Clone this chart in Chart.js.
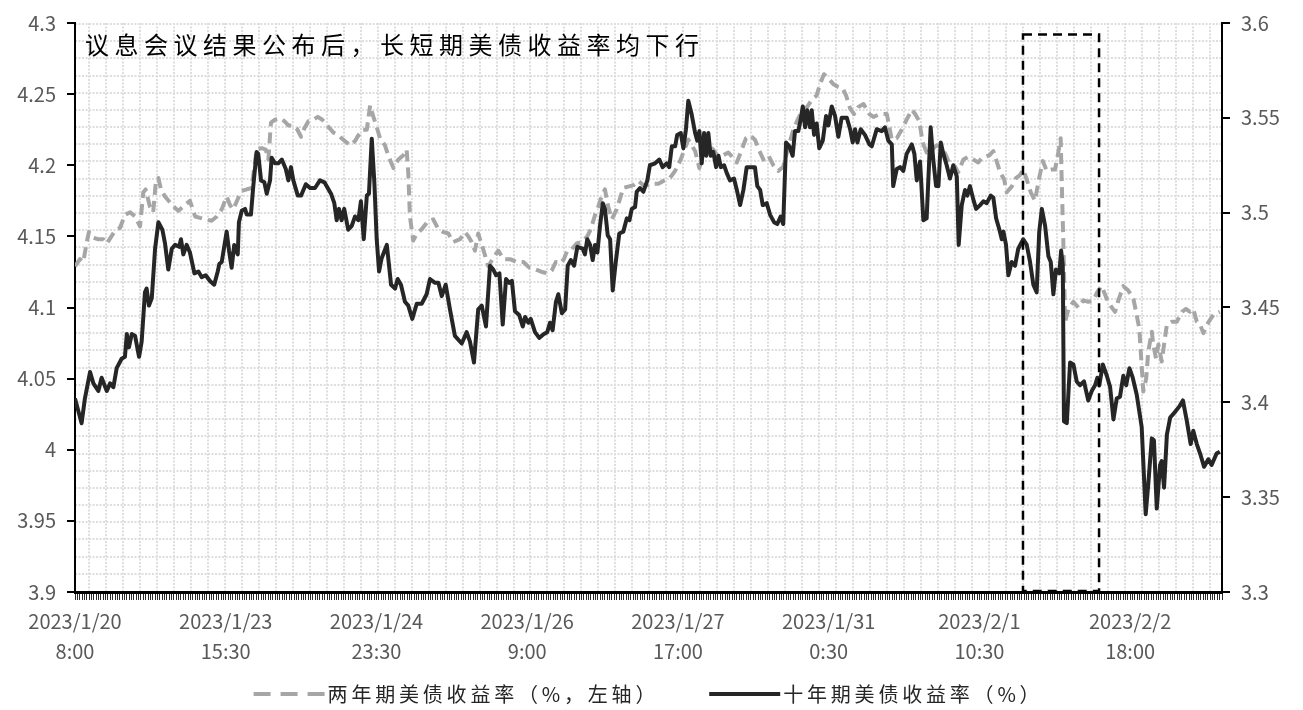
<!DOCTYPE html>
<html lang="zh-CN">
<head>
<meta charset="utf-8">
<title>美债收益率</title>
<script src="https://cdn.jsdelivr.net/npm/chart.js@4.4.1/dist/chart.umd.min.js"></script>
<style>
  html, body { margin: 0; padding: 0; background: #fff; }
  #wrap { width: 1303px; height: 710px; position: relative; }
</style>
</head>
<body>
<div id="wrap"><canvas id="yieldChart"></canvas></div>
<script>
// 横轴为半小时序号（0 ~ 487），每 64 个标一次时间
var barCount = 488;
var tickEvery = 64;
var tickLabels = [
    ['2023/1/20', '8:00'], ['2023/1/23', '15:30'], ['2023/1/24', '23:30'], ['2023/1/26', '9:00'],
    ['2023/1/27', '17:00'], ['2023/1/31', '0:30'], ['2023/2/1', '10:30'], ['2023/2/2', '18:00']
];

// 坐标轴范围
var leftMin = 3.9, leftMax = 4.3;
var rightMin = 3.3, rightMax = 3.6;
var tickStep = 0.05;

// 议息会议窗口（序号范围，顶边按左轴取值）
var boxFrom = 402.5, boxTo = 434.8, boxTop = 4.292;

var chartTitle = '议息会议结果公布后，长短期美债收益率均下行';

// 两年期美债收益率 [序号, %]，左轴
var twoYear = [
    [0,4.129],[2.1,4.134],[3.5,4.132],[5.0,4.146],[5.9,4.153],[7.8,4.149],[9.9,4.148],[12.0,4.148],[13.5,4.145],[17.0,4.154],
    [19.1,4.156],[21.2,4.165],[23.4,4.167],[25.5,4.164],[27.6,4.157],[28.3,4.169],[29.0,4.181],[30.0,4.183],[31.8,4.171],[33.2,4.167],
    [34.3,4.188],[35.4,4.191],[36.5,4.183],[38.2,4.178],[40.3,4.174],[42.5,4.170],[43.9,4.168],[46.0,4.171],[48.8,4.175],[51.0,4.164],
    [53.1,4.163],[55.5,4.162],[58.0,4.161],[60.2,4.164],[62.3,4.169],[64.4,4.178],[65.8,4.172],[67.2,4.169],[69.3,4.177],[70.8,4.182],
    [72.9,4.183],[75.0,4.184],[77.1,4.211],[79.3,4.212],[81.0,4.211],[82.1,4.204],[83.2,4.230],[84.9,4.232],[87.0,4.233],[88.9,4.231],
    [90.6,4.228],[92.7,4.228],[94.1,4.226],[96.0,4.220],[97.4,4.226],[99.1,4.231],[101.2,4.232],[103.1,4.234],[105.0,4.232],[107.6,4.227],
    [109.7,4.223],[111.8,4.221],[114.6,4.217],[116.8,4.214],[118.9,4.217],[120.3,4.221],[122.0,4.225],[123.9,4.225],[125.3,4.242],[126.7,4.234],
    [128.1,4.227],[129.5,4.219],[131.6,4.214],[133.0,4.207],[135.2,4.198],[137.3,4.204],[139.4,4.207],[140.8,4.211],[141.5,4.195],[142.2,4.164],
    [143.6,4.147],[145.1,4.152],[147.2,4.155],[150.0,4.161],[152.1,4.162],[154.3,4.155],[156.4,4.153],[158.5,4.152],[160.6,4.146],[163.5,4.148],
    [165.6,4.153],[167.0,4.150],[168.4,4.146],[169.8,4.140],[171.2,4.152],[173.3,4.141],[175.5,4.129],[177.6,4.135],[179.7,4.140],[181.9,4.134],
    [184.7,4.134],[187.5,4.132],[190.4,4.132],[192.9,4.128],[195.3,4.127],[198.2,4.125],[201.0,4.124],[202.4,4.126],[204.2,4.132],[205.9,4.131],
    [207.6,4.134],[209.0,4.140],[210.9,4.141],[213.0,4.145],[215.1,4.146],[217.5,4.150],[219.0,4.155],[220.8,4.165],[222.2,4.171],[223.6,4.178],
    [225.0,4.183],[226.4,4.171],[227.9,4.162],[230.0,4.169],[232.8,4.184],[234.9,4.185],[237.1,4.186],[239.2,4.189],[241.3,4.186],[243.4,4.186],
    [245.5,4.187],[247.7,4.187],[249.8,4.189],[252.6,4.191],[254.8,4.196],[256.9,4.203],[259.0,4.212],[260.4,4.218],[261.8,4.214],[263.3,4.210],
    [265.1,4.198],[266.8,4.209],[268.9,4.214],[271.0,4.211],[273.2,4.206],[275.3,4.207],[277.4,4.209],[279.5,4.205],[281.0,4.202],[283.1,4.211],
    [284.9,4.219],[286.6,4.221],[288.7,4.218],[290.6,4.210],[292.3,4.204],[294.4,4.207],[296.5,4.200],[298.6,4.196],[300.7,4.199],[302.9,4.213],
    [305.0,4.225],[307.1,4.233],[309.0,4.239],[310.9,4.241],[312.8,4.246],[314.9,4.249],[316.3,4.257],[318.0,4.264],[319.9,4.261],[322.0,4.257],
    [324.1,4.255],[326.0,4.254],[327.4,4.249],[329.1,4.240],[330.8,4.236],[332.6,4.241],[334.8,4.243],[337.3,4.236],[339.0,4.234],[341.8,4.236],
    [344.7,4.236],[346.8,4.218],[348.9,4.219],[351.0,4.225],[353.1,4.232],[355.3,4.239],[356.7,4.236],[358.5,4.231],[359.9,4.216],[361.6,4.209],
    [363.8,4.211],[365.9,4.214],[368.0,4.213],[370.1,4.206],[371.5,4.200],[373.7,4.199],[375.0,4.195],[377.2,4.204],[379.3,4.206],[381.4,4.204],
    [383.5,4.202],[385.0,4.205],[386.4,4.206],[388.2,4.207],[389.9,4.210],[391.1,4.204],[392.8,4.195],[394.5,4.190],[395.6,4.181],[397.7,4.185],
    [399.5,4.191],[401.2,4.193],[402.6,4.197],[404.1,4.190],[405.8,4.181],[407.6,4.175],[409.0,4.188],[410.9,4.203],[412.6,4.196],[414.7,4.197],
    [416.1,4.197],[417.5,4.209],[418.5,4.219],[418.9,4.192],[419.6,4.148],[420.4,4.090],[421.8,4.099],[423.9,4.104],[426.0,4.100],[428.1,4.105],
    [430.2,4.104],[432.4,4.105],[434.1,4.111],[435.9,4.115],[438.1,4.106],[440.2,4.100],[441.6,4.097],[443.0,4.105],[445.1,4.115],[447.2,4.112],
    [449.4,4.106],[450.5,4.097],[451.9,4.085],[452.5,4.069],[453.6,4.041],[454.8,4.050],[455.7,4.069],[457.2,4.083],[457.8,4.074],[459.0,4.064],
    [460.0,4.074],[461.4,4.062],[462.4,4.074],[463.6,4.088],[465.7,4.090],[467.8,4.090],[470.0,4.097],[471.7,4.099],[473.4,4.097],[474.8,4.099],
    [476.3,4.090],[477.7,4.088],[479.1,4.082],[480.6,4.088],[483.4,4.095],[486.1,4.097]
];

// 十年期美债收益率 [序号, %]，右轴
var tenYear = [
    [0,3.402],[2.8,3.389],[4.2,3.402],[6.4,3.416],[7.8,3.410],[9.9,3.406],[11.3,3.413],[13.5,3.406],[14.9,3.410],[16.3,3.408],
    [17.7,3.418],[19.8,3.423],[21.2,3.424],[22.0,3.436],[22.9,3.429],[24.1,3.436],[25.5,3.435],[27.2,3.424],[28.3,3.432],[29.7,3.458],
    [30.4,3.460],[31.4,3.451],[32.6,3.455],[34.0,3.481],[35.4,3.495],[37.1,3.491],[38.2,3.484],[39.6,3.470],[41.1,3.481],[42.5,3.483],
    [44.2,3.482],[45.0,3.486],[46.0,3.478],[47.4,3.483],[48.8,3.479],[50.7,3.468],[52.4,3.469],[53.8,3.466],[55.5,3.467],[57.3,3.464],
    [59.1,3.462],[60.6,3.469],[61.3,3.473],[62.3,3.474],[64.4,3.490],[65.4,3.480],[66.5,3.471],[67.6,3.483],[69.1,3.478],[69.6,3.495],
    [70.8,3.501],[72.2,3.502],[72.9,3.499],[74.7,3.499],[75.7,3.514],[77.1,3.532],[77.8,3.531],[79.0,3.517],[80.4,3.516],[81.4,3.510],
    [82.8,3.517],[83.5,3.529],[84.9,3.526],[86.3,3.526],[87.8,3.528],[89.5,3.523],[90.6,3.517],[91.7,3.524],[92.7,3.517],[94.6,3.509],
    [96.0,3.509],[98.0,3.515],[99.8,3.513],[101.9,3.513],[104.0,3.517],[105.9,3.516],[107.3,3.513],[108.7,3.510],[110.1,3.505],[111.1,3.496],
    [112.1,3.502],[113.2,3.496],[114.3,3.502],[116.0,3.491],[117.5,3.493],[118.9,3.498],[120.3,3.496],[121.4,3.506],[122.6,3.486],[123.9,3.509],
    [124.8,3.510],[126.0,3.539],[127.1,3.516],[128.1,3.486],[129.1,3.469],[130.2,3.476],[132.4,3.483],[134.2,3.462],[135.9,3.460],[137.0,3.465],
    [138.4,3.462],[140.1,3.453],[141.5,3.451],[143.2,3.444],[145.1,3.452],[147.2,3.452],[149.3,3.457],[150.7,3.465],[152.9,3.463],[154.3,3.463],
    [155.7,3.456],[157.4,3.462],[159.2,3.449],[161.3,3.435],[164.2,3.431],[166.3,3.437],[167.7,3.432],[169.4,3.421],[171.2,3.449],[172.7,3.451],
    [174.5,3.440],[176.2,3.472],[177.6,3.470],[178.8,3.467],[180.2,3.468],[181.6,3.441],[183.0,3.465],[184.4,3.463],[185.5,3.464],[186.8,3.448],
    [188.6,3.446],[190.1,3.440],[191.1,3.445],[192.5,3.442],[193.5,3.444],[195.3,3.437],[197.1,3.434],[199.1,3.436],[200.5,3.437],[201.7,3.442],
    [202.8,3.438],[204.2,3.453],[205.2,3.457],[206.7,3.447],[208.1,3.449],[209.2,3.472],[210.5,3.475],[211.9,3.472],[213.3,3.482],[215.6,3.481],
    [216.5,3.478],[217.5,3.486],[218.7,3.483],[219.8,3.475],[220.8,3.483],[221.8,3.479],[222.9,3.493],[224.1,3.505],[225.0,3.502],[226.2,3.488],
    [227.2,3.486],[228.3,3.459],[229.6,3.474],[231.1,3.489],[232.8,3.490],[234.3,3.497],[235.4,3.496],[236.4,3.502],[237.8,3.503],[238.5,3.511],
    [239.9,3.513],[241.3,3.511],[243.0,3.517],[244.1,3.525],[246.3,3.526],[248.1,3.528],[249.5,3.524],[251.2,3.526],[252.3,3.524],[253.4,3.535],
    [254.8,3.535],[255.7,3.541],[257.2,3.542],[258.3,3.534],[259.4,3.544],[260.4,3.559],[261.8,3.552],[263.3,3.542],[264.2,3.538],[265.1,3.543],
    [266.1,3.526],[267.1,3.542],[268.0,3.530],[268.9,3.542],[269.9,3.530],[271.0,3.532],[272.2,3.524],[273.2,3.530],[274.2,3.524],[275.6,3.525],
    [276.7,3.521],[278.1,3.517],[279.8,3.518],[281.0,3.512],[282.4,3.504],[283.8,3.512],[285.2,3.524],[287.3,3.524],[288.7,3.524],[289.7,3.514],
    [290.9,3.512],[292.0,3.504],[293.7,3.505],[295.1,3.499],[296.8,3.495],[298.2,3.494],[299.6,3.498],[300.7,3.494],[301.9,3.537],[303.3,3.535],
    [304.7,3.530],[305.7,3.543],[307.1,3.543],[308.1,3.549],[309.0,3.556],[310.0,3.545],[310.9,3.554],[312.1,3.545],[312.8,3.554],[313.8,3.541],
    [314.9,3.547],[316.0,3.534],[317.5,3.538],[318.9,3.551],[319.9,3.546],[321.3,3.556],[322.7,3.551],[324.1,3.540],[325.5,3.550],[327.7,3.550],
    [329.1,3.544],[330.2,3.537],[331.2,3.544],[332.2,3.537],[333.6,3.544],[335.4,3.541],[337.3,3.536],[338.3,3.535],[340.4,3.544],[342.5,3.543],
    [343.9,3.545],[345.3,3.538],[346.8,3.536],[347.4,3.514],[348.9,3.523],[350.3,3.524],[351.7,3.522],[353.1,3.531],[355.3,3.536],[356.4,3.531],
    [357.4,3.517],[358.8,3.527],[360.2,3.496],[361.6,3.497],[363.3,3.545],[364.4,3.528],[365.6,3.514],[366.6,3.514],[367.6,3.537],[368.7,3.531],
    [370.1,3.525],[371.5,3.518],[372.9,3.525],[374.4,3.519],[375.2,3.483],[376.5,3.504],[377.9,3.512],[378.9,3.509],[380.0,3.514],[381.4,3.507],
    [382.6,3.502],[384.3,3.504],[385.7,3.506],[387.1,3.505],[388.8,3.509],[389.9,3.508],[391.1,3.497],[392.5,3.491],[393.5,3.486],[394.2,3.490],
    [395.3,3.483],[396.3,3.467],[397.7,3.474],[399.1,3.472],[400.5,3.481],[402.6,3.486],[404.1,3.483],[405.5,3.474],[406.9,3.462],[408.3,3.458],
    [409.4,3.490],[410.5,3.502],[411.9,3.493],[413.3,3.477],[414.3,3.474],[415.4,3.457],[416.5,3.470],[417.9,3.468],[418.7,3.480],[419.4,3.472],
    [419.9,3.390],[421.1,3.389],[422.5,3.421],[423.9,3.420],[425.3,3.411],[426.7,3.409],[428.4,3.411],[430.2,3.401],[431.7,3.406],[433.1,3.409],
    [434.1,3.413],[434.9,3.409],[436.4,3.420],[438.1,3.414],[439.5,3.408],[440.9,3.391],[442.3,3.402],[443.7,3.403],[445.1,3.414],[446.3,3.409],
    [447.7,3.418],[449.1,3.413],[450.8,3.404],[452.9,3.387],[454.6,3.341],[455.7,3.357],[457.2,3.381],[458.1,3.380],[459.3,3.344],[460.7,3.367],
    [461.4,3.369],[462.4,3.355],[463.6,3.383],[465.0,3.392],[467.1,3.395],[469.0,3.398],[470.4,3.401],[472.1,3.390],[473.7,3.378],[474.8,3.385],
    [476.3,3.378],[477.7,3.373],[479.4,3.366],[481.2,3.370],[482.6,3.367],[484.7,3.373],[486.1,3.374]
];

function toPoints(rows) {
    return rows.map(function (r) { return { x: r[0], y: r[1] }; });
}

var cjkFont = "'Noto Sans CJK SC', 'Noto Sans', sans-serif";
Chart.defaults.font.family = cjkFont;

// 绘图区底纹：浅灰点状网格
var dottedGrid = {
    id: 'dottedGrid',
    beforeDraw: function (chart) {
        var a = chart.chartArea, ctx = chart.ctx;
        ctx.save();
        ctx.strokeStyle = '#dedede';
        ctx.lineWidth = 2;
        ctx.setLineDash([2, 1.5]);
        ctx.beginPath();
        for (var x = a.left + 14; x < a.right - 3; x += 16.98) {
            ctx.moveTo(Math.round(x), a.top);
            ctx.lineTo(Math.round(x), a.bottom);
        }
        for (var y = a.top + 1; y < a.bottom - 3; y += 17.18) {
            ctx.moveTo(a.left, Math.round(y));
            ctx.lineTo(a.right, Math.round(y));
        }
        ctx.stroke();
        ctx.restore();
    }
};

// 议息会议窗口虚线框
var meetingBox = {
    id: 'meetingBox',
    afterDatasetsDraw: function (chart) {
        var xs = chart.scales.x, ys = chart.scales.y, ctx = chart.ctx;
        var x0 = xs.getPixelForValue(boxFrom), x1 = xs.getPixelForValue(boxTo);
        var y0 = ys.getPixelForValue(boxTop), y1 = ys.getPixelForValue(leftMin) - 1;
        ctx.save();
        ctx.strokeStyle = '#000';
        ctx.lineWidth = 2.5;
        ctx.setLineDash([9, 6]);
        ctx.strokeRect(x0, y0, x1 - x0, y1 - y0);
        ctx.restore();
    }
};

// 标题（图内左上）与底部图例
var titleAndLegend = {
    id: 'titleAndLegend',
    afterDraw: function (chart) {
        var ctx = chart.ctx, a = chart.chartArea;
        ctx.save();
        ctx.fillStyle = '#000';
        ctx.font = '24px ' + cjkFont;
        ctx.letterSpacing = '5.5px';
        ctx.textBaseline = 'middle';
        ctx.fillText(chartTitle, a.left + 10, a.top + 22);

        ctx.font = '20px ' + cjkFont;
        ctx.letterSpacing = '3.8px';
        var sets = chart.data.datasets;
        var symW = 71, symGap = 3, itemGap = 50;
        var total = 0;
        sets.forEach(function (ds, i) {
            total += symW + symGap + ctx.measureText(ds.label).width + (i ? itemGap : 0);
        });
        var x = (a.left + a.right) / 2 - total / 2;
        var y = chart.height - 16;
        sets.forEach(function (ds, i) {
            if (i) x += itemGap;
            ctx.strokeStyle = ds.borderColor;
            ctx.lineWidth = 4;
            ctx.setLineDash(ds.legendDash || []);
            ctx.beginPath();
            ctx.moveTo(x, y);
            ctx.lineTo(x + symW, y);
            ctx.stroke();
            x += symW + symGap;
            ctx.fillStyle = '#262626';
            ctx.fillText(ds.label, x, y);
            x += ctx.measureText(ds.label).width;
        });
        ctx.restore();
    }
};

var ctx = document.getElementById('yieldChart').getContext('2d');
var yieldChart = new Chart(ctx, {
    type: 'line',
    data: {
        datasets: [{
            label: '两年期美债收益率（%，左轴）',
            data: toPoints(twoYear),
            yAxisID: 'y',
            borderColor: '#a6a6a6',
            borderWidth: 4,
            borderDash: [11, 6],
            legendDash: [17, 10],
            borderJoinStyle: 'round',
            pointRadius: 0,
            order: 1
        }, {
            label: '十年期美债收益率（%）',
            data: toPoints(tenYear),
            yAxisID: 'y1',
            borderColor: '#262626',
            borderWidth: 4,
            borderJoinStyle: 'round',
            pointRadius: 0,
            order: 0
        }]
    },
    options: {
        responsive: true,
        maintainAspectRatio: false,
        animation: false,
        layout: { padding: { top: 19, left: 0, right: 0, bottom: 0 } },
        plugins: {
            legend: { display: false },
            tooltip: { enabled: false }
        },
        scales: {
            x: {
                type: 'linear',
                min: 0,
                max: barCount - 1,
                afterFit: function (s) { s.height = 118; },
                border: { color: '#000', width: 3 },
                grid: { drawOnChartArea: false, tickLength: 8, color: '#2a2a2a', lineWidth: 1 },
                ticks: {
                    stepSize: 1,
                    autoSkip: false,
                    minRotation: 0,
                    maxRotation: 0,
                    padding: 6,
                    color: '#595959',
                    font: { size: 20, lineHeight: 1.5 },
                    callback: function (v) {
                        return v % tickEvery === 0 ? tickLabels[v / tickEvery] : '';
                    }
                }
            },
            y: {
                position: 'left',
                min: leftMin,
                max: leftMax,
                afterFit: function (s) { s.width = 75; },
                border: { color: '#000', width: 2 },
                grid: { drawOnChartArea: false, tickLength: 8, color: '#000', lineWidth: 2 },
                ticks: {
                    stepSize: tickStep,
                    padding: 11,
                    color: '#595959',
                    font: { size: 20 },
                    callback: function (v) { return String(+v.toFixed(2)); }
                }
            },
            y1: {
                position: 'right',
                min: rightMin,
                max: rightMax,
                afterFit: function (s) { s.width = 81; },
                border: { color: '#000', width: 2 },
                grid: { drawOnChartArea: false, tickLength: 8, color: '#000', lineWidth: 2 },
                ticks: {
                    stepSize: tickStep,
                    padding: 11,
                    color: '#595959',
                    font: { size: 20 },
                    callback: function (v) { return String(+v.toFixed(2)); }
                }
            }
        }
    },
    plugins: [dottedGrid, meetingBox, titleAndLegend]
});
</script>
</body>
</html>
